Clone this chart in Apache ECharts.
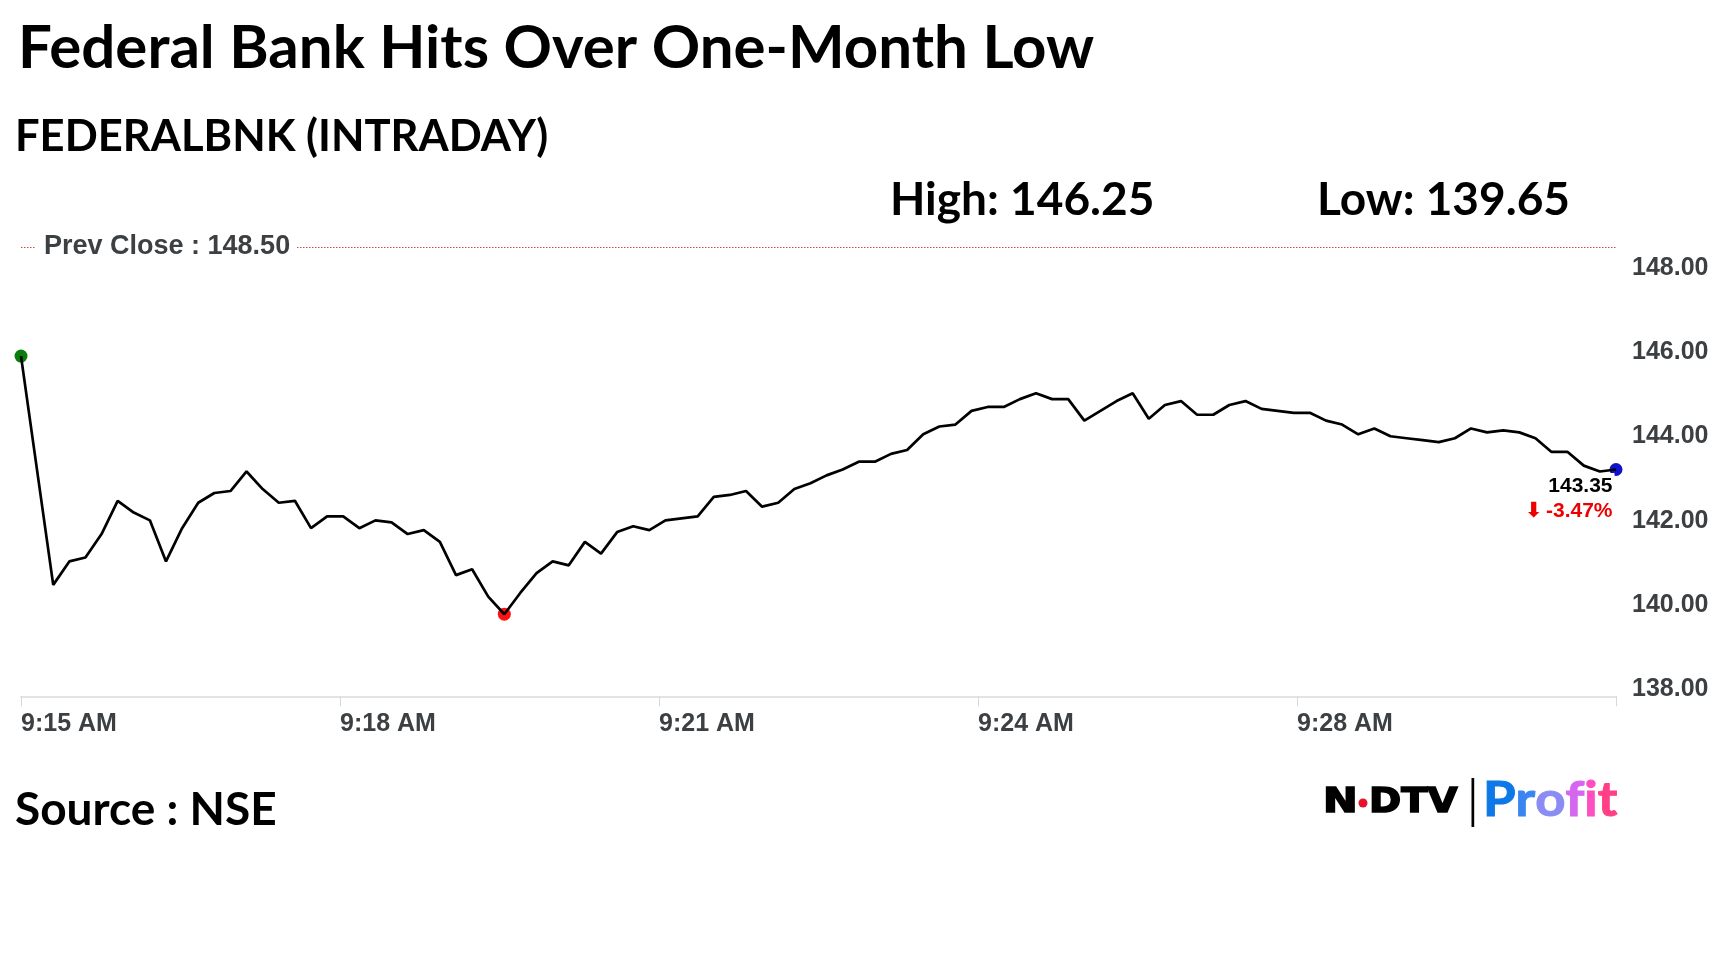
<!DOCTYPE html>
<html>
<head>
<meta charset="utf-8">
<script src="https://cdn.jsdelivr.net/npm/echarts@6/dist/echarts.min.js"></script>
<style>
  html, body { margin: 0; padding: 0; background: #fff; }
  #chart { width: 1728px; height: 972px; }
</style>
</head>
<body>
<div id="chart"></div>
<script>
// ---- data ----
const titleText = 'Federal Bank Hits Over One-Month Low';
const subtitleText = 'FEDERALBNK (INTRADAY)';
const sourceText = 'Source : NSE';
const dayHigh = 146.25;
const dayLow = 139.65;
const prevClose = 148.50;

// intraday prices, one per tick of the feed (null = gap in the feed)
const prices = [
  146.25, null, 140.40, 141.00, 141.10, 141.70, 142.55, 142.25, 142.05, 141.00,
  141.85, 142.50, 142.75, 142.80, 143.30, 142.85, 142.50, 142.55, 141.85, 142.15,
  142.15, 141.85, 142.05, 142.00, 141.70, 141.80, 141.50, 140.65, 140.80, 140.10,
  139.65, 140.20, 140.70, 141.00, 140.90, 141.50, 141.20, 141.75, 141.90, 141.80,
  142.05, 142.10, 142.15, 142.65, 142.70, 142.80, 142.40, 142.50, 142.85, 143.00,
  143.20, 143.35, 143.55, 143.55, 143.75, 143.85, 144.25, 144.45, 144.50, 144.85,
  144.95, 144.95, 145.15, 145.30, 145.15, 145.15, 144.60, 144.85, 145.10, 145.30,
  144.65, 145.00, 145.10, 144.75, 144.75, 145.00, 145.10, 144.90, 144.85, 144.80,
  144.80, 144.60, 144.50, 144.25, 144.40, 144.20, 144.15, 144.10, 144.05, 144.15,
  144.40, 144.30, 144.35, 144.30, 144.15, 143.80, 143.80, 143.45, 143.30, 143.35
];

// x-axis tick labels (evenly spaced along the feed)
const tickLabels = ['9:15 AM', '9:18 AM', '9:21 AM', '9:24 AM', '9:28 AM', ''];

// price axis tick labels
const priceTicks = [138, 140, 142, 144, 146, 148];

// ---- chart ----
const lastIdx = prices.length - 1;
const lastPrice = prices[lastIdx];
const pctChange = ((lastPrice - prevClose) / prevClose * 100).toFixed(2);
const xStep = lastIdx / (tickLabels.length - 1);
const seriesData = prices.map((p, i) => [i, p]);

const axisFont = '"Liberation Sans", Arial, sans-serif';
const gray = '#3d4043';

const chart = echarts.init(document.getElementById('chart'), null, { renderer: 'canvas' });

const profitColors = { a: '#0d78e6', b: '#3a86f0', c: '#8a8cf4', d: '#d566ee', e: '#ff4dc2', f: '#ff3f86' };
const profitRich = {};
Object.keys(profitColors).forEach(k => {
  profitRich[k] = {
    fill: profitColors[k], stroke: profitColors[k], lineWidth: 1,
    fontFamily: 'Lato, sans-serif', fontWeight: 'bold', fontSize: 47
  };
});

const option = {
  animation: false,
  backgroundColor: '#ffffff',
  grid: {
    left: 21, right: 112, top: 247, bottom: 282.7,
    containLabel: false, outerBoundsMode: 'none'
  },
  xAxis: {
    type: 'value',
    min: 0,
    max: lastIdx,
    interval: xStep,
    offset: 7,
    axisLine: { show: true, onZero: false, lineStyle: { color: '#e3e3e3', width: 2 } },
    axisTick: { show: true, length: 10, lineStyle: { color: '#d8d8d8', width: 1 } },
    axisLabel: {
      formatter: (v) => tickLabels[Math.round(v / xStep)] || '',
      align: 'left',
      margin: 15,
      showMinLabel: true,
      showMaxLabel: true,
      fontFamily: axisFont, fontWeight: 'bold', fontSize: 25, color: gray
    },
    splitLine: { show: false }
  },
  yAxis: [
    {
      // visible price scale
      type: 'value',
      position: 'right',
      min: priceTicks[0],
      max: prevClose,
      interval: priceTicks[1] - priceTicks[0],
      axisLine: { show: false },
      axisTick: { show: false },
      splitLine: { show: false },
      axisLabel: {
        showMaxLabel: false,
        margin: 16,
        formatter: (v) => v.toFixed(2),
        fontFamily: axisFont, fontWeight: 'bold', fontSize: 25, color: gray
      }
    },
    {
      // price scale of the traced line
      type: 'value',
      show: false,
      min: 137.73,
      max: 149.04
    }
  ],
  series: [
    {
      name: 'Prev Close',
      type: 'line',
      yAxisIndex: 0,
      data: [],
      silent: true,
      markLine: {
        silent: true,
        symbol: 'none',
        animation: false,
        lineStyle: { color: '#d04a45', type: [1.5, 1.5], width: 1.2 },
        label: {
          show: true,
          position: 'insideStartTop',
          distance: [15, 0],
          verticalAlign: 'middle',
          align: 'left',
          formatter: 'Prev Close : ' + prevClose.toFixed(2),
          backgroundColor: '#ffffff',
          padding: [2, 6, 2, 8],
          fontFamily: axisFont, fontWeight: 'bold', fontSize: 27, color: gray
        },
        data: [{ yAxis: prevClose }]
      }
    },
    {
      name: 'FEDERALBNK',
      type: 'line',
      yAxisIndex: 1,
      data: seriesData,
      connectNulls: true,
      showSymbol: false,
      symbol: 'none',
      lineStyle: { color: '#000000', width: 2.7 },
      z: 5,
      markPoint: {
        symbol: 'circle',
        symbolSize: 13,
        animation: false,
        label: { show: false },
        data: [
          { type: 'max', valueDim: 'y', itemStyle: { color: '#0a7d0a' } },
          { type: 'min', valueDim: 'y', itemStyle: { color: '#ff1111' } },
          {
            coord: [lastIdx, lastPrice],
            itemStyle: { color: '#1111cc' },
            label: {
              show: true,
              position: [5, 10],
              align: 'right',
              verticalAlign: 'top',
              backgroundColor: '#ffffff',
              padding: [1, 2, 1, 4],
              formatter: '{v|' + lastPrice.toFixed(2) + '}\n{a|\u2b07} {d|' + pctChange + '%}',
              rich: {
                v: { fontFamily: axisFont, fontWeight: 'bold', fontSize: 21, color: '#000000', lineHeight: 25, align: 'right' },
                a: { fontFamily: '"DejaVu Sans", sans-serif', fontWeight: 'bold', fontSize: 21, color: '#ee0000', lineHeight: 25, align: 'right' },
                d: { fontFamily: axisFont, fontWeight: 'bold', fontSize: 21, color: '#ee0000', lineHeight: 25, align: 'right' }
              }
            }
          }
        ]
      }
    }
  ],
  graphic: [
    { type: 'text', x: 18, y: 49, style: { text: titleText, font: '700 60px Lato, sans-serif', fill: '#000', textVerticalAlign: 'middle' } },
    { type: 'text', x: 15, y: 137, style: { text: subtitleText, font: '700 43.5px Lato, sans-serif', fill: '#000', textVerticalAlign: 'middle' } },
    { type: 'text', x: 890, y: 200, style: { text: 'High: ' + dayHigh.toFixed(2), font: '700 46px Lato, sans-serif', fill: '#000', textVerticalAlign: 'middle' } },
    { type: 'text', x: 1317, y: 200, style: { text: 'Low: ' + dayLow.toFixed(2), font: '700 46px Lato, sans-serif', fill: '#000', textVerticalAlign: 'middle' } },
    { type: 'text', x: 15, y: 810, style: { text: sourceText, font: '700 46px Lato, sans-serif', fill: '#000', textVerticalAlign: 'middle' } },
    // NDTV Profit logo
    { type: 'text', x: 1323, y: 803, scaleX: 1.22, style: { text: 'N', font: '700 34px "DejaVu Sans", sans-serif', fill: '#000', stroke: '#000', lineWidth: 1.6, textVerticalAlign: 'middle' } },
    { type: 'text', x: 1369, y: 803, scaleX: 1.14, style: { text: 'DTV', font: '700 34px "DejaVu Sans", sans-serif', fill: '#000', stroke: '#000', lineWidth: 1.6, textVerticalAlign: 'middle' } },
    { type: 'circle', shape: { cx: 1363, cy: 803, r: 4.5 }, style: { fill: '#e8112d' } },
    { type: 'rect', shape: { x: 1471.5, y: 778, width: 2.7, height: 49 }, style: { fill: '#000' } },
    { type: 'text', x: 1483, y: 801, scaleX: 1.12, style: {
        text: '{a|P}{b|r}{c|o}{d|f}{e|i}{f|t}', textVerticalAlign: 'middle',
        fontFamily: 'Lato, sans-serif', fontWeight: 'bold', fontSize: 47, rich: profitRich
      } }
  ]
};

chart.setOption(option);
</script>
</body>
</html>
